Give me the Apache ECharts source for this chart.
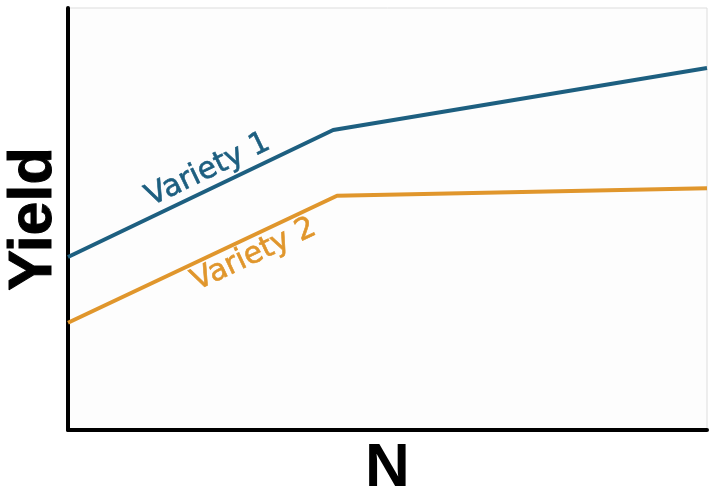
<!DOCTYPE html>
<html>
<head>
<meta charset="utf-8">
<script src="https://cdn.jsdelivr.net/npm/echarts@6/dist/echarts.min.js"></script>
<style>html,body{margin:0;padding:0;background:#fff;}#c{width:719px;height:487px;}</style>
</head>
<body>
<div id="c"></div>
<script>
const variety1X = [0, 4.15, 10];
const variety1Y = [4.10, 7.11, 8.58];
const variety2X = [0, 4.21, 10];
const variety2Y = [2.54, 5.55, 5.73];
const seriesNames = ['Variety 1', 'Variety 2'];
const xTitle = 'N';
const yTitle = 'Yield';

const chart = echarts.init(document.getElementById('c'), null, {renderer: 'canvas'});
const zip = (xs, ys) => xs.map((x, i) => [x, ys[i]]);
const colors = ['#1d5f80', '#e0962c'];

chart.setOption({
  animation: false,
  backgroundColor: '#ffffff',
  grid: {left: 68, right: 12, top: 8, bottom: 57, containLabel: false, outerBoundsMode: 'none',
    show: true, borderColor: '#dddddd', borderWidth: 1, backgroundColor: '#fdfdfd'},
  xAxis: {
    type: 'value', min: 0, max: 10,
    name: xTitle, nameLocation: 'middle', nameGap: 8,
    nameTextStyle: {fontFamily: 'Liberation Sans', fontWeight: 'bold', fontSize: 62, color: '#000', verticalAlign: 'top'},
    axisLine: {show: true, lineStyle: {color: '#000', width: 4}},
    axisTick: {show: false}, axisLabel: {show: false}, splitLine: {show: false}
  },
  yAxis: {
    type: 'value', min: 0, max: 10,
    name: yTitle, nameLocation: 'middle', nameGap: 3, nameRotate: 90,
    nameTextStyle: {fontFamily: 'Liberation Sans', fontWeight: 'bold', fontSize: 61, color: '#000',
      textBorderColor: '#000', textBorderWidth: 1},
    axisLine: {show: true, lineStyle: {color: '#000', width: 4}},
    axisTick: {show: false}, axisLabel: {show: false}, splitLine: {show: false}
  },
  series: [
    {
      name: seriesNames[0], type: 'line', data: zip(variety1X, variety1Y),
      showSymbol: false, symbol: 'none', lineStyle: {color: colors[0], width: 4}, z: 3,
      markPoint: {
        symbol: 'circle', symbolSize: 0,
        data: [{coord: [2.19, 6.16], value: seriesNames[0]}],
        label: {show: true, position: 'inside', formatter: seriesNames[0], rotate: 25.7,
          color: colors[0], fontFamily: 'DejaVu Sans', fontSize: 30,
          textBorderColor: colors[0], textBorderWidth: 0.6}
      }
    },
    {
      name: seriesNames[1], type: 'line', data: zip(variety2X, variety2Y),
      showSymbol: false, symbol: 'none', lineStyle: {color: colors[1], width: 4}, z: 3,
      markPoint: {
        symbol: 'circle', symbolSize: 0,
        data: [{coord: [2.91, 4.15], value: seriesNames[1]}],
        label: {show: true, position: 'inside', formatter: seriesNames[1], rotate: 25.3,
          color: colors[1], fontFamily: 'DejaVu Sans', fontSize: 30,
          textBorderColor: colors[1], textBorderWidth: 0.6}
      }
    }
  ]
});
</script>
</body>
</html>
